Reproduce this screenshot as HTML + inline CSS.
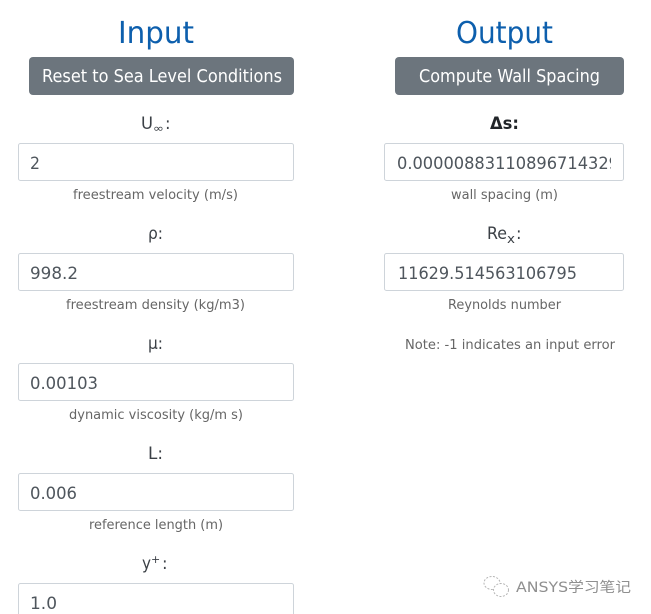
<!DOCTYPE html>
<html><head><meta charset="utf-8"><style>
html,body{margin:0;padding:0;background:#fff;width:651px;height:614px;overflow:hidden}
svg{display:block}
text{font-family:"DejaVu Sans","Noto Sans CJK SC",sans-serif}
.h{font-size:30px;fill:#0d5fad}
.b{font-size:17.5px;fill:#fff}
.l{font-size:16.5px;fill:#3b4046}
.v{font-size:17px;fill:#4f565d}
.s{font-size:13px;fill:#666}
rect.i{fill:#fff;stroke:#ced4da;stroke-width:1}
rect.btn{fill:#6c757d}
</style></head><body>
<svg width="651" height="614" viewBox="0 0 651 614" xmlns="http://www.w3.org/2000/svg">
<text class="h" x="118" y="43" textLength="76" lengthAdjust="spacingAndGlyphs">Input</text>
<text class="h" x="456" y="43" textLength="97" lengthAdjust="spacingAndGlyphs">Output</text>
<rect class="btn" x="29" y="57" width="265" height="38" rx="4"/>
<text class="b" x="42" y="82" textLength="240" lengthAdjust="spacingAndGlyphs">Reset to Sea Level Conditions</text>
<rect class="btn" x="395" y="57" width="229" height="38" rx="4"/>
<text class="b" x="419" y="82" textLength="181" lengthAdjust="spacingAndGlyphs">Compute Wall Spacing</text>

<text class="l" x="141" y="129" textLength="12" lengthAdjust="spacingAndGlyphs">U</text>
<text class="l" x="153" y="132" style="font-size:11px" textLength="11" lengthAdjust="spacingAndGlyphs">∞</text>
<text class="l" x="165" y="129">:</text>
<rect class="i" x="18.5" y="143.5" width="275" height="37" rx="2"/>
<text class="v" x="30" y="169" textLength="10" lengthAdjust="spacingAndGlyphs">2</text>
<text class="s" x="73" y="199" textLength="165" lengthAdjust="spacingAndGlyphs">freestream velocity (m/s)</text>

<text class="l" x="148" y="239" textLength="15" lengthAdjust="spacingAndGlyphs">ρ:</text>
<rect class="i" x="18.5" y="253.5" width="275" height="37" rx="2"/>
<text class="v" x="30" y="279" textLength="48" lengthAdjust="spacingAndGlyphs">998.2</text>
<text class="s" x="66" y="309" textLength="179" lengthAdjust="spacingAndGlyphs">freestream density (kg/m3)</text>

<text class="l" x="148" y="349" textLength="15" lengthAdjust="spacingAndGlyphs">μ:</text>
<rect class="i" x="18.5" y="363.5" width="275" height="37" rx="2"/>
<text class="v" x="30" y="389" textLength="68" lengthAdjust="spacingAndGlyphs">0.00103</text>
<text class="s" x="69" y="419" textLength="174" lengthAdjust="spacingAndGlyphs">dynamic viscosity (kg/m s)</text>

<text class="l" x="148" y="459" textLength="15" lengthAdjust="spacingAndGlyphs">L:</text>
<rect class="i" x="18.5" y="473.5" width="275" height="37" rx="2"/>
<text class="v" x="30" y="499" textLength="47" lengthAdjust="spacingAndGlyphs">0.006</text>
<text class="s" x="89" y="529" textLength="134" lengthAdjust="spacingAndGlyphs">reference length (m)</text>

<text class="l" x="142" y="569" textLength="9" lengthAdjust="spacingAndGlyphs">y</text>
<text class="l" x="151" y="563" style="font-size:11px">+</text>
<text class="l" x="162" y="569">:</text>
<rect class="i" x="18.5" y="583.5" width="275" height="37" rx="2"/>
<text class="v" x="30" y="609" textLength="27" lengthAdjust="spacingAndGlyphs">1.0</text>

<text class="l" x="490" y="129" style="font-weight:bold;fill:#212529" textLength="29" lengthAdjust="spacingAndGlyphs">Δs:</text>
<rect class="i" x="384.5" y="143.5" width="239" height="37" rx="2"/>
<svg x="397" y="143" width="214" height="38" viewBox="0 0 214 38"><text class="v" x="0" y="26" textLength="222" lengthAdjust="spacingAndGlyphs">0.00000883110896714329</text></svg>
<text class="s" x="451" y="199" textLength="107" lengthAdjust="spacingAndGlyphs">wall spacing (m)</text>

<text class="l" x="487" y="239" textLength="20" lengthAdjust="spacingAndGlyphs">Re</text>
<text class="l" x="507" y="243" style="font-size:12px" textLength="8" lengthAdjust="spacingAndGlyphs">x</text>
<text class="l" x="516" y="239">:</text>
<rect class="i" x="384.5" y="253.5" width="239" height="37" rx="2"/>
<text class="v" x="398" y="279" textLength="179" lengthAdjust="spacingAndGlyphs">11629.514563106795</text>
<text class="s" x="448" y="309" textLength="113" lengthAdjust="spacingAndGlyphs">Reynolds number</text>
<text class="s" x="405" y="349" textLength="210" lengthAdjust="spacingAndGlyphs">Note: -1 indicates an input error</text>

<g fill="#fff" stroke="#b5b5b5" stroke-width="1">
<ellipse cx="492" cy="583" rx="8" ry="6.5" stroke-dasharray="2 1.5"/>
<ellipse cx="501" cy="590" rx="7.5" ry="6.5" stroke-dasharray="2 1.5"/>
</g>
<text x="516" y="592" style="font-size:14px;fill:#8f8f8f" textLength="115" lengthAdjust="spacingAndGlyphs">ANSYS学习笔记</text>
</svg>
</body></html>
